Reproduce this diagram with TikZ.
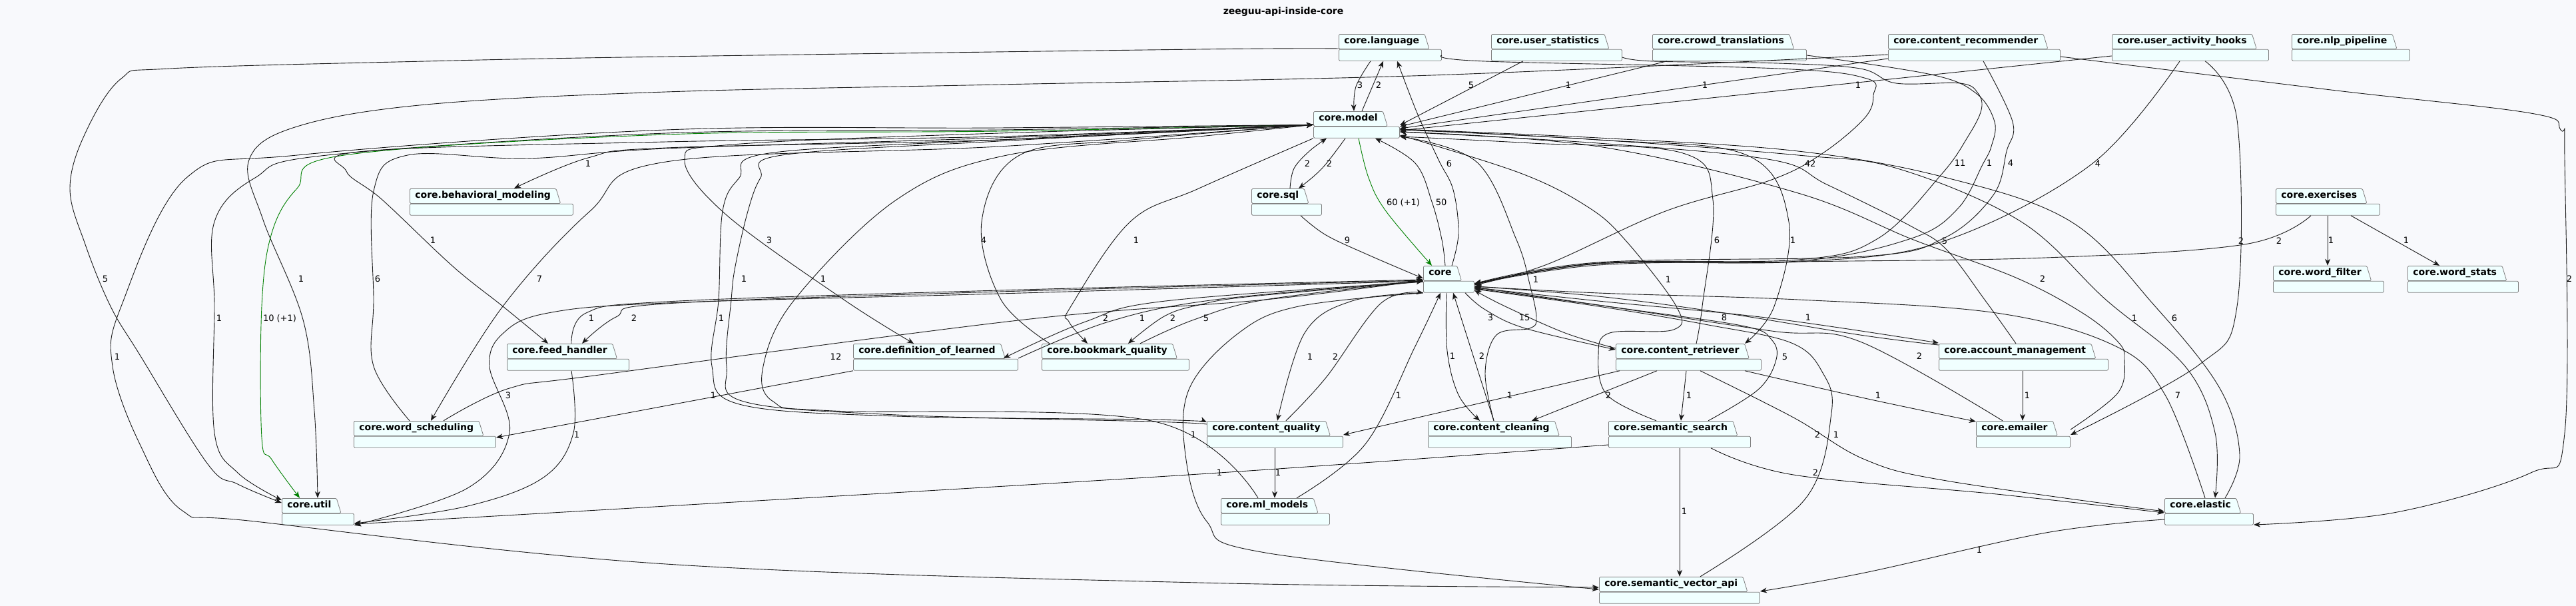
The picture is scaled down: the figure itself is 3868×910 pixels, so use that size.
\documentclass[tikz,border=0pt]{standalone}
\usepackage{fontspec}
\setmainfont{DejaVu Sans}
\usepackage{tikz}
\usetikzlibrary{arrows.meta,shapes.geometric,fit}
\definecolor{PageBg}{HTML}{F8F9FC}
\definecolor{PkgFill}{HTML}{F0FFFF}
\definecolor{PkgLine}{HTML}{7F7F7F}
\definecolor{DepLine}{HTML}{181818}
\definecolor{DepGreen}{HTML}{008000}
\tikzset{
  pkgtab/.style={shape=trapezium,trapezium left angle=90,trapezium right angle=73,draw=PkgLine,fill=PkgFill,line width=0.8pt,rounded corners=1.5pt,font=\bfseries\fontsize{14}{16}\selectfont,text height=11pt,text depth=4pt,inner xsep=8pt,inner ysep=3.5pt,anchor=top left corner},
  pkgbody/.style={draw=PkgLine,fill=PkgFill,line width=0.8pt,rounded corners=1.5pt,minimum height=17pt,inner sep=0pt,anchor=north west},
  dep/.style={draw=DepLine,line width=0.9pt,-{Stealth[length=10pt,width=8pt,inset=3pt]}},
  depg/.style={dep,draw=DepGreen},
  lbl/.style={font=\fontsize{13}{15}\selectfont,inner sep=0pt}
}
\newcommand{\pkgnode}[5]{%
  \node[pkgtab] (#1t) at (#2,#3) {#5};
  \node[pkgbody,minimum width=#4] (#1b) at (#1t.bottom left corner) {};
  \node[fit=(#1t.top left corner)(#1b.south east),inner sep=0pt] (#1) {};
}
\begin{document}
\begin{tikzpicture}[x=1pt,y=-1pt,every plot/.style={smooth,tension=0.6}]
\useasboundingbox (0,0) rectangle (3868,910);
\fill[PageBg] (0,0) rectangle (3868,910);
\node[font=\bfseries\fontsize{14}{16}\selectfont] (title) at (1927,18) {zeeguu-api-inside-core};
\pkgnode{language}{2010}{51}{154}{core.language}
\pkgnode{userstats}{2239}{51}{196}{core.user\_statistics}
\pkgnode{crowd}{2481}{51}{231}{core.crowd\_translations}
\pkgnode{recommender}{2835}{51}{258}{core.content\_recommender}
\pkgnode{hooks}{3171}{51}{235}{core.user\_activity\_hooks}
\pkgnode{nlp}{3441}{51}{177}{core.nlp\_pipeline}
\pkgnode{model}{1972}{167}{129}{core.model}
\pkgnode{behavioral}{615}{283}{245}{core.behavioral\_modeling}
\pkgnode{sql}{1879}{283}{105}{core.sql}
\pkgnode{exercises}{3417}{283}{156}{core.exercises}
\pkgnode{core}{2137}{399}{76}{core}
\pkgnode{wordfilter}{3413}{399}{166}{core.word\_filter}
\pkgnode{wordstats}{3615}{399}{166}{core.word\_stats}
\pkgnode{feed}{761}{516}{183}{core.feed\_handler}
\pkgnode{deflearned}{1281}{516}{247}{core.definition\_of\_learned}
\pkgnode{bookmark}{1564}{516}{221}{core.bookmark\_quality}
\pkgnode{retriever}{2426}{516}{218}{core.content\_retriever}
\pkgnode{account}{2911}{516}{254}{core.account\_management}
\pkgnode{wordsched}{531}{632}{213}{core.word\_scheduling}
\pkgnode{cquality}{1812}{632}{204}{core.content\_quality}
\pkgnode{cleaning}{2144}{632}{215}{core.content\_cleaning}
\pkgnode{ssearch}{2415}{632}{213}{core.semantic\_search}
\pkgnode{emailer}{2967}{632}{141}{core.emailer}
\pkgnode{util}{423}{748}{108}{core.util}
\pkgnode{mlmodels}{1833}{748}{163}{core.ml\_models}
\pkgnode{elastic}{3250}{748}{133}{core.elastic}
\pkgnode{vectorapi}{2401}{866}{241}{core.semantic\_vector\_api}
\draw[dep] plot coordinates {(2058,0 |- language.south) (2036,130) (2033,0 |- model.north)} node[lbl] at (2042,128) {3};
\draw[dep] (2045,0 |- model.north) -- (2077,0 |- language.south) node[lbl] at (2070,128) {2};
\draw[dep] plot coordinates {(2180,0 |- core.north) (2190,350) (2182,285) (2160,240) (2128,170) (2098,0 |- language.south)} node[lbl] at (2176,246) {6};
\draw[depg] plot coordinates {(2040,0 |- model.south) (2055,267) (2081,317) (2150,0 |- core.north)} node[lbl] at (2107,304) {60 (+1)};
\draw[dep] plot coordinates {(2170,0 |- core.north) (2165,360) (2150,303) (2125,245) (2065,0 |- model.south)} node[lbl] at (2164,304) {50};
\draw[dep] (2287,0 |- userstats.south) -- (model.east |- 0,188) node[lbl] at (2209,128) {5};
\draw[dep] (2503,0 |- crowd.south) -- (model.east |- 0,190) node[lbl] at (2355,128) {1};
\draw[dep] (recommender.west |- 0,88) -- (model.east |- 0,193) node[lbl] at (2560,128) {1};
\draw[dep] (hooks.west |- 0,84) -- (model.east |- 0,196) node[lbl] at (2790,128) {1};
\draw[dep] plot coordinates {(recommender.west |- 0,82) (2150,113) (1500,127) (1000,138) (640,157) (446,190) (374,240) (395,330) (455,480) (472,617) (477,0 |- util.north)} node[lbl] at (452,419) {1};
\draw[dep] plot coordinates {(language.west |- 0,73) (1800,74) (1000,85) (638,92) (255,103) (182,118) (128,200) (105,283) (128,367) (166,460) (210,533) (312,697) (357,727) (util.west |- 0,755)} node[lbl] at (158,419) {5};
\draw[dep] plot coordinates {(model.west) (1500,195) (1000,200) (491,233) (383,267) (322,333) (322,460) (322,650) (357,710) (util.west |- 0,751)} node[lbl] at (329,478) {1};
\draw[depg] plot coordinates {(model.west) (1500,197) (1000,202) (517,233) (446,283) (408,350) (393,460) (393,657) (408,690) (450,0 |- util.north)} node[lbl] at (420,478) {10 (+1)};
\draw[dep] plot coordinates {(model.west) (1500,205) (1000,213) (548,227) (520,257) (574,300) (680,400) (755,460) (823,0 |- feed.north)} node[lbl] at (650,361) {1};
\draw[dep] plot coordinates {(615,0 |- wordsched.north) (561,550) (561,450) (561,287) (612,233) (791,238) (1000,223) (1500,207) (model.west)} node[lbl] at (567,419) {6};
\draw[dep] plot coordinates {(model.west) (1500,210) (1000,222) (883,237) (772,0 |- behavioral.north)} node[lbl] at (883,246) {1};
\draw[dep] plot coordinates {(model.west) (1500,220) (1000,243) (886,317) (755,460) (647,0 |- wordsched.north)} node[lbl] at (810,419) {7};
\draw[dep] plot coordinates {(model.west) (1500,192) (1000,195) (446,233) (280,267) (182,460) (169,550) (210,667) (274,767) (383,783) (1000,847) (1800,875) (vectorapi.west |- 0,882)} node[lbl] at (176,536) {1};
\draw[dep] plot coordinates {(model.west) (1500,200) (1100,217) (1028,240) (1091,323) (1267,450) (1372,0 |- deflearned.north)} node[lbl] at (1155,361) {3};
\draw[dep] plot coordinates {(model.west) (1500,210) (1155,230) (1110,267) (1085,317) (1079,450) (1069,550) (1110,607) (1346,625) (1729,630) (cquality.west |- 0,634)} node[lbl] at (1083,478) {1};
\draw[dep] plot coordinates {(cquality.west |- 0,637) (1729,633) (1346,623) (1117,603) (1091,550) (1098,450) (1104,400) (1123,317) (1142,267) (1174,233) (1500,212) (model.west)} node[lbl] at (1117,419) {1};
\draw[dep] plot coordinates {(1889,0 |- mlmodels.north) (1729,632) (1251,617) (1161,603) (1146,550) (1193,450) (1346,300) (1512,233) (1800,205) (model.west)} node[lbl] at (1236,419) {1};
\draw[dep] plot coordinates {(1576,0 |- bookmark.north) (1503,450) (1474,333) (1531,233) (1700,210) (model.west)} node[lbl] at (1477,361) {4};
\draw[dep] plot coordinates {(model.south west) (1800,283) (1697,333) (1608,460) (1605,483) (1633,0 |- bookmark.north)} node[lbl] at (1706,361) {1};
\draw[dep] plot coordinates {(1937,0 |- sql.north) (1943,253) (1966,227) (1992,0 |- model.south)} node[lbl] at (1963,246) {2};
\draw[dep] plot coordinates {(2020,0 |- model.south) (1985,253) (1950,0 |- sql.north)} node[lbl] at (1996,246) {2};
\draw[dep] plot coordinates {(1953,0 |- sql.south) (1991,353) (2055,383) (core.west |- 0,418)} node[lbl] at (2023,361) {9};
\draw[dep] plot coordinates {(2547,0 |- retriever.north) (2556,460) (2572,300) (2527,230) (2300,215) (model.east |- 0,205)} node[lbl] at (2578,361) {6};
\draw[dep] plot coordinates {(model.east |- 0,195) (2400,210) (2623,233) (2686,333) (2664,460) (2620,0 |- retriever.north)} node[lbl] at (2692,361) {1};
\draw[dep] plot coordinates {(2487,0 |- ssearch.north) (2413,593) (2400,533) (2417,500) (2513,495) (2517,460) (2440,360) (2383,310) (2283,260) (model.east |- 0,203)} node[lbl] at (2505,420) {1};
\draw[dep] plot coordinates {(2243,0 |- cleaning.north) (2230,560) (2247,503) (2297,493) (2307,477) (2297,427) (2277,360) (2217,243) (model.east |- 0,205)} node[lbl] at (2306,420) {1};
\draw[dep] plot coordinates {(3027,0 |- account.north) (2980,450) (2923,375) (2870,340) (2743,277) (2660,240) (2400,215) (model.east |- 0,198)} node[lbl] at (2920,362) {5};
\draw[dep] plot coordinates {(emailer.east |- 0,645) (3180,590) (3190,540) (3180,513) (3127,470) (3027,417) (2873,360) (2700,290) (2400,220) (model.east |- 0,198)} node[lbl] at (3067,419) {2};
\draw[dep] plot coordinates {(model.east |- 0,194) (2400,210) (2700,233) (2849,253) (3035,333) (3162,450) (3281,550) (3326,650) (3326,0 |- elastic.north)} node[lbl] at (3205,478) {1};
\draw[dep] plot coordinates {(3341,0 |- elastic.north) (3363,683) (3333,583) (3236,460) (3110,333) (2923,267) (2700,227) (2400,207) (model.east |- 0,194)} node[lbl] at (3265,478) {6};
\draw[dep] plot coordinates {(language.east |- 0,83) (2230,92) (2670,103) (2803,118) (2813,143) (2800,177) (2737,230) (2660,270) (2501,317) (2323,397) (core.east |- 0,428)} node[lbl] at (2718,246) {42};
\draw[dep] plot coordinates {(userstats.east |- 0,86) (2483,92) (2670,95) (2793,103) (2847,125) (2943,125) (2970,140) (2975,165) (2955,205) (2915,262) (2820,358) (2700,390) (2400,395) (core.east |- 0,426)} node[lbl] at (2943,245) {11};
\draw[dep] plot coordinates {(crowd.east |- 0,83) (2900,112) (2967,140) (2995,183) (2990,220) (2977,247) (2940,313) (2870,358) (2700,392) (2400,396) (core.east |- 0,426)} node[lbl] at (2987,245) {1};
\draw[dep] plot coordinates {(2978,0 |- recommender.south) (3022,183) (3013,227) (2993,293) (2920,357) (2800,385) (2400,394) (core.east |- 0,426)} node[lbl] at (3019,245) {4};
\draw[dep] plot coordinates {(3273,0 |- hooks.south) (3140,247) (2916,363) (2700,393) (2400,396) (core.east |- 0,427)} node[lbl] at (3150,246) {4};
\draw[dep] plot coordinates {(3470,0 |- exercises.south) (3370,367) (3072,387) (2700,393) (2400,398) (core.east |- 0,427)} node[lbl] at (3422,362) {2};
\draw[dep] plot coordinates {(account.west |- 0,518) (2793,503) (2589,470) (2400,445) (core.east |- 0,430)} node[lbl] at (2589,477) {8};
\draw[dep] plot coordinates {(core.east |- 0,432) (2400,452) (2660,478) (account.west |- 0,515)} node[lbl] at (2715,477) {1};
\draw[dep] plot coordinates {(3007,0 |- emailer.north) (2793,513) (2660,497) (2400,458) (core.east |- 0,431)} node[lbl] at (2882,535) {2};
\draw[dep] plot coordinates {(3311,0 |- elastic.north) (3251,593) (3177,520) (2998,470) (2700,450) (2400,440) (core.east |- 0,430)} node[lbl] at (3270,594) {7};
\draw[dep] plot coordinates {(2565,0 |- ssearch.north) (2640,585) (2667,540) (2660,510) (2620,490) (2450,465) (core.east |- 0,433)} node[lbl] at (2680,536) {5};
\draw[dep] plot coordinates {(2553,0 |- vectorapi.north) (2710,750) (2750,620) (2737,560) (2690,515) (2560,487) (2400,460) (core.east |- 0,434)} node[lbl] at (2757,653) {1};
\draw[dep] plot coordinates {(retriever.west |- 0,523) (2350,500) (2260,460) (core.east |- 0,436)} node[lbl] at (2289,477) {15};
\draw[dep] plot coordinates {(2200,0 |- core.south) (2230,465) (2290,493) (retriever.west |- 0,525)} node[lbl] at (2238,477) {3};
\draw[dep] plot coordinates {(666,0 |- wordsched.north) (765,583) (900,563) (1538,480) (1900,450) (core.west |- 0,421)} node[lbl] at (1255,536) {12};
\draw[dep] plot coordinates {(858,0 |- feed.north) (880,470) (1000,453) (1500,436) (core.west |- 0,420)} node[lbl] at (888,478) {1};
\draw[dep] plot coordinates {(core.west |- 0,421) (1500,438) (1000,456) (925,476) (874,0 |- feed.north)} node[lbl] at (952,478) {2};
\draw[dep] plot coordinates {(core.west |- 0,422) (1500,441) (1000,455) (823,470) (756,500) (735,550) (765,650) (702,733) (util.south east)} node[lbl] at (763,594) {3};
\draw[dep] plot coordinates {(deflearned.east |- 0,538) (1665,483) (1825,450) (core.west |- 0,422)} node[lbl] at (1715,478) {1};
\draw[dep] plot coordinates {(core.west |- 0,423) (1750,452) (1630,483) ([xshift=-22pt,yshift=-22pt]deflearned.north east)} node[lbl] at (1660,478) {2};
\draw[dep] plot coordinates {(core.west |- 0,423) (1880,445) (1800,458) (1748,475) (1694,0 |- bookmark.north)} node[lbl] at (1761,478) {2};
\draw[dep] plot coordinates {(1712,0 |- bookmark.north) (1793,480) (1900,450) (core.west |- 0,422)} node[lbl] at (1811,478) {5};
\draw[dep] plot coordinates {(core.south west) (2030,452) (1959,500) (1918,0 |- cquality.north)} node[lbl] at (1967,536) {1};
\draw[dep] plot coordinates {(1931,0 |- cquality.north) (1991,567) (2074,455) (core.south west)} node[lbl] at (2005,536) {2};
\draw[dep] plot coordinates {(1947,0 |- mlmodels.north) (2050,667) (2125,520) (2163,0 |- core.south)} node[lbl] at (2100,594) {1};
\draw[dep] plot coordinates {(2172,0 |- core.south) (2173,527) (2190,593) (2222,0 |- cleaning.north)} node[lbl] at (2181,535) {1};
\draw[dep] (2243,0 |- cleaning.north) -- (2182,0 |- core.south) node[lbl] at (2225,535) {2};
\draw[dep] plot coordinates {(core.south west) (1950,460) (1860,500) (1786,583) (1780,683) (1812,783) (1900,830) (vectorapi.west |- 0,885)} node[lbl] at (1792,653) {1};
\draw[dep] (deflearned.south west) -- (wordsched.east |- 0,657) node[lbl] at (1071,594) {1};
\draw[dep] plot coordinates {(858,0 |- feed.south) (861,650) (816,717) (702,760) (util.east |- 0,786)} node[lbl] at (866,653) {1};
\draw[dep] plot coordinates {(ssearch.west |- 0,668) (1800,712) (1000,760) (util.east |- 0,787)} node[lbl] at (1831,710) {1};
\draw[dep] (2432,0 |- retriever.south) -- (cquality.east |- 0,653) node[lbl] at (2267,594) {1};
\draw[dep] (2488,0 |- retriever.south) -- (2300,0 |- cleaning.north) node[lbl] at (2415,594) {2};
\draw[dep] (2532,0 |- retriever.south) -- (2524,0 |- ssearch.north) node[lbl] at (2536,594) {1};
\draw[dep] plot coordinates {(2620,0 |- retriever.south) (2800,598) (emailer.west |- 0,633)} node[lbl] at (2820,594) {1};
\draw[dep] plot coordinates {(2553,0 |- retriever.south) (2693,627) (2800,690) (2923,722) (elastic.west |- 0,768)} node[lbl] at (2729,653) {2};
\draw[dep] plot coordinates {(2569,0 |- ssearch.south) (2693,713) (2998,742) (elastic.west |- 0,770)} node[lbl] at (2726,710) {2};
\draw[dep] (2522,0 |- ssearch.south) -- (2522,0 |- vectorapi.north) node[lbl] at (2529,768) {1};
\draw[dep] plot coordinates {(elastic.west |- 0,780) (3072,800) (2800,860) (vectorapi.east |- 0,888)} node[lbl] at (2972,826) {1};
\draw[dep] (3037,0 |- account.south) -- (3037,0 |- emailer.north) node[lbl] at (3044,594) {1};
\draw[dep] plot coordinates {(3311,0 |- hooks.south) (3359,180) (3359,460) (3303,547) (emailer.east |- 0,653)} node[lbl] at (3365,362) {2};
\draw[dep] plot coordinates {(recommender.east |- 0,85) (3500,135) (3800,170) (3845,195) (3851,240) (3851,650) (3800,710) (3594,770) (elastic.east |- 0,788)} node[lbl] at (3858,419) {2};
\draw[dep] (3495,0 |- exercises.south) -- (3495,0 |- wordfilter.north) node[lbl] at (3500,361) {1};
\draw[dep] (3530,0 |- exercises.south) -- (3663,0 |- wordstats.north) node[lbl] at (3613,361) {1};
\draw[dep] (1914,0 |- cquality.south) -- (1914,0 |- mlmodels.north) node[lbl] at (1919,710) {1};
\end{tikzpicture}
\end{document}
